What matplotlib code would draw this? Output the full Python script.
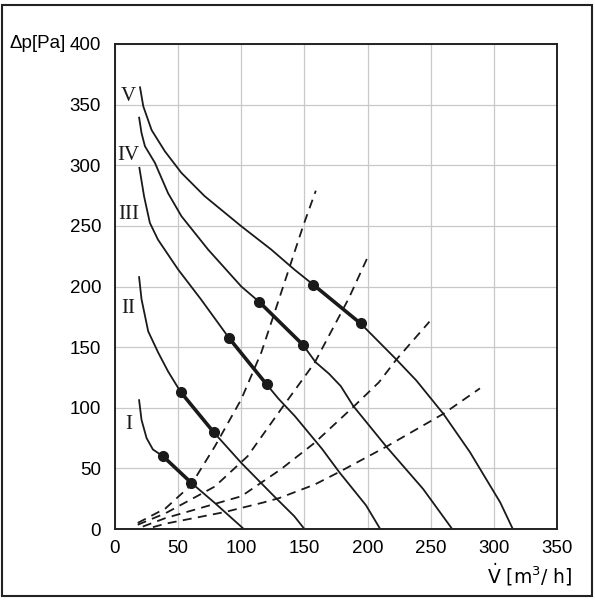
import matplotlib
matplotlib.use("Agg")
import matplotlib.pyplot as plt
from matplotlib.patches import Rectangle

plt.rcParams['font.family'] = ['Liberation Sans Narrow', 'Liberation Sans', 'DejaVu Sans']
plt.rcParams['mathtext.fontset'] = 'custom'
plt.rcParams['mathtext.rm'] = 'Liberation Sans Narrow'

# Kennlinien der Stufen I..V (V [m3/h], dp [Pa])
v5_x = [19.7, 22.4, 29, 39.5, 52.6, 71, 100, 123.7, 142, 157, 194.5, 222.6, 238.6, 260, 281, 294, 305, 315]
v5_y = [365, 348.6, 329, 311.5, 293.7, 274.5, 249.7, 230.5, 214, 201.5, 169.5, 140, 122.5, 95, 63.5, 41, 22, 0]
v4_x = [19, 21, 23.7, 31.6, 42, 52.6, 73.7, 100, 114, 148.7, 158.8, 169.5, 178.8, 188.7, 214.8, 244, 267]
v4_y = [340, 326.6, 315.7, 302, 277, 258, 230.5, 200, 187.5, 152, 137.6, 128, 117.8, 101.4, 68, 33, 0]
v3_x = [19.2, 23, 27.6, 34, 50, 68, 90.3, 120, 129.5, 142.5, 164, 177.5, 198.8, 210]
v3_y = [298.6, 274.5, 252.5, 238.7, 214, 189.5, 157.5, 119.3, 107.4, 93, 66, 47, 19.5, 0]
v2_x = [19, 21, 26.3, 34.2, 42, 52, 78, 100, 126, 142, 150]
v2_y = [208.5, 189.5, 163, 145.5, 130, 113, 80, 54.5, 27, 10.5, 0]
v1_x = [19, 21, 25, 30, 38, 60.5, 79, 102]
v1_y = [107, 90, 75, 65.6, 60, 38, 21.5, 0]

kurven = [(v1_x, v1_y), (v2_x, v2_y), (v3_x, v3_y), (v4_x, v4_y), (v5_x, v5_y)]
stufen = ['I', 'II', 'III', 'IV', 'V']
stufen_y = [86, 182, 259, 308, 357]

# Arbeitsbereich (Punkte)
ab_x = [(38, 60.5), (52, 78), (90.3, 120), (114, 148.7), (157, 194.5)]
ab_y = [(60, 38), (113, 80), (157.5, 119.3), (187.5, 152), (201.5, 169.5)]

# Anlagenkennlinien (gestrichelt)
a1_x = [18, 40, 60, 79, 100, 116, 130, 149, 159]
a1_y = [5, 17, 36, 68, 107, 146, 190, 250, 279]
a2_x = [18, 40, 79, 105, 133, 158, 185, 200]
a2_y = [3.5, 13, 35, 60, 101, 137, 190, 224]
a3_x = [22, 40, 100, 131, 158, 189, 209, 223, 249]
a3_y = [2, 9, 27, 49, 71, 101, 121, 140, 171]
a4_x = [30, 40, 87, 118, 130, 158, 177.5, 215, 260, 289]
a4_y = [1.5, 4.4, 14, 22, 25.5, 36.6, 47, 68, 95, 116]
anlagen = [(a1_x, a1_y), (a2_x, a2_y), (a3_x, a3_y), (a4_x, a4_y)]

fig = plt.figure(figsize=(5.95, 6.0), dpi=100)
ax = fig.add_axes([115/595, 71/600, 442/595, 485/600])

ax.set_xlim(0, 350)
ax.set_ylim(0, 400)
ax.set_xticks(range(0, 351, 50))
ax.set_yticks(range(0, 401, 50))
ax.grid(color='#c8c8c8', linewidth=0.9)
ax.set_axisbelow(True)
ax.tick_params(length=0, labelsize=13.5, pad=8)
ax.tick_params(axis='y', pad=10)
for s in ax.spines.values():
    s.set_linewidth(1.4)
    s.set_color('#222222')

for (kx, ky) in kurven:
    ax.plot(kx, ky, color='#1a1a1a', lw=1.3, solid_capstyle='butt')

for (kx, ky) in anlagen:
    ax.plot(kx, ky, color='#1a1a1a', lw=1.3, dashes=(5, 3.5))

for px, py in zip(ab_x, ab_y):
    ax.plot(px, py, color='#1a1a1a', lw=2.6, marker='o', markersize=7)

for lab, ly in zip(stufen, stufen_y):
    ax.text(10.5, ly, lab, family=['Liberation Serif', 'DejaVu Serif'],
            fontsize=15, ha='center', va='center', color='#1a1a1a')

fig.text(10/595, 1 - 44/600, 'Δp[Pa]', fontsize=13.5, ha='left', va='center')
fig.text(573/595, 1 - 584/600, r'$\dot{\mathrm{V}}\ \mathrm{[m^3/\ h]}$', fontsize=13.5,
         ha='right', va='baseline')

# Rahmen
fig.patches.append(Rectangle((2/595, 4/600), 590/595, 591/600, transform=fig.transFigure,
                             fill=False, lw=1.5, edgecolor='#222222'))

fig.savefig('out.png', dpi=100)
